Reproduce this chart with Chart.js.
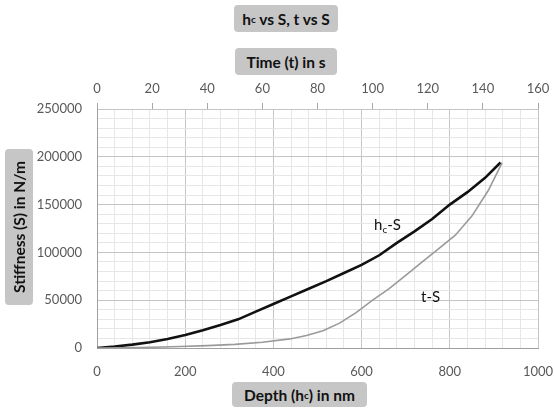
<!DOCTYPE html>
<html>
<head>
<meta charset="utf-8">
<script src="https://cdn.jsdelivr.net/npm/chart.js@4.4.1/dist/chart.umd.min.js"></script>
<style>
  html, body { margin: 0; padding: 0; background: #fff; }
  #wrap { position: relative; width: 554px; height: 409px; font-family: Lato, "Open Sans", sans-serif; }
  #grafico { position: absolute; left: 0; top: 0; }
  .caixa {
    position: absolute; background: #c6c6c6; border-radius: 4px;
    font-weight: bold; font-size: 15.5px; color: #111;
    display: flex; align-items: center; justify-content: center; white-space: nowrap;
  }
  .rotulo { position: absolute; font-size: 15px; color: #111; white-space: nowrap; }
  sub { font-size: 10px; vertical-align: -3px; line-height: 0; }
</style>
</head>
<body>
<div id="wrap">
  <canvas id="grafico" width="554" height="409"></canvas>
  <div class="caixa" style="left:234px;top:5px;width:104px;height:27px;">h<sub>c</sub>&nbsp;vs S, t vs S</div>
  <div class="caixa" style="left:235px;top:48px;width:102px;height:27px;">Time (t) in s</div>
  <div class="caixa" style="left:-59px;top:213px;width:156px;height:28px;transform:rotate(-90deg);">Stiffness (S) in N/m</div>
  <div class="caixa" style="left:232px;top:382px;width:135px;height:25px;">Depth (h<sub>c</sub>) in nm</div>
  <div class="rotulo" style="left:374px;top:215px;">h<sub>c</sub>-S</div>
  <div class="rotulo" style="left:421px;top:287px;">t-S</div>
</div>
<script>
// curva h_c-S (profundidade em nm, rigidez em N/m)
const profundidade = [0, 40, 80, 120, 160, 200, 240, 280, 320, 360, 400, 440, 480, 520, 560, 600, 640, 680, 720, 760, 800, 840, 880, 915];
const rigidezHc = [0, 1500, 3500, 6000, 9500, 13500, 18500, 24000, 30000, 38000, 46000, 54000, 62000, 70000, 78500, 87000, 97000, 110000, 122000, 135000, 150000, 163000, 178000, 194000];

// curva t-S (tempo em s)
const tempo = [0, 10, 20, 30, 40, 50, 60, 70, 76, 82, 88, 94, 100, 106, 112, 118, 124, 130, 136, 142, 147];
const rigidezT = [0, 300, 800, 1500, 2500, 3800, 6000, 9500, 13000, 18000, 26000, 37000, 50000, 62000, 76000, 90000, 104000, 118000, 138000, 165000, 194000];

const fonteTicks = { family: 'Lato, "Open Sans", sans-serif', size: 13 };
const corTicks = '#595959';

function pares(xs, ys) {
  return xs.map((x, i) => ({ x: x, y: ys[i] }));
}

// fixa a altura do eixo e a folga lateral
function ajustarEixoX(altura) {
  return (s) => {
    s.height = altura;
    s.paddingLeft = 0;
    s.paddingRight = 16;
  };
}

new Chart(document.getElementById('grafico'), {
  type: 'line',
  data: {
    datasets: [
      {
        label: 't-S',
        data: pares(tempo, rigidezT),
        xAxisID: 'x2',
        borderColor: '#9a9a9a',
        borderWidth: 1.6,
        pointRadius: 0,
        tension: 0,
      },
      {
        label: 'hc-S',
        data: pares(profundidade, rigidezHc),
        xAxisID: 'x',
        borderColor: '#111111',
        borderWidth: 2.6,
        pointRadius: 0,
        tension: 0,
      },
    ],
  },
  options: {
    responsive: false,
    animation: false,
    layout: { padding: 0 },
    plugins: { legend: { display: false }, title: { display: false }, tooltip: { enabled: false } },
    scales: {
      x: {
        type: 'linear',
        position: 'bottom',
        min: 0,
        max: 1000,
        afterFit: ajustarEixoX(61),
        border: { color: '#a0a0a0' },
        grid: {
          drawTicks: false,
          color: (ctx) => (ctx.tick && ctx.tick.value % 200 === 0 ? '#c4c4c4' : '#e6e6e6'),
        },
        ticks: {
          stepSize: 40,
          autoSkip: false,
          maxRotation: 0,
          padding: 16,
          color: corTicks,
          font: fonteTicks,
          callback: (v) => (v % 200 === 0 ? String(v) : ''),
        },
      },
      x2: {
        type: 'linear',
        position: 'top',
        min: 0,
        max: 160,
        afterFit: ajustarEixoX(109),
        border: { color: '#c4c4c4' },
        grid: { drawOnChartArea: false, drawTicks: true, tickLength: 6, color: '#a8a8a8' },
        ticks: {
          stepSize: 20,
          autoSkip: false,
          maxRotation: 0,
          padding: 6,
          color: corTicks,
          font: fonteTicks,
          callback: (v) => String(v),
        },
      },
      y: {
        type: 'linear',
        min: 0,
        max: 250000,
        afterFit: (s) => { s.width = 97; },
        border: { color: '#a0a0a0' },
        grid: {
          drawTicks: false,
          color: (ctx) => (ctx.tick && ctx.tick.value % 50000 === 0 ? '#c4c4c4' : '#e6e6e6'),
        },
        ticks: {
          stepSize: 10000,
          autoSkip: false,
          padding: 15,
          color: corTicks,
          font: fonteTicks,
          callback: (v) => (v % 50000 === 0 ? String(v) : ''),
        },
      },
    },
  },
});
</script>
</body>
</html>
